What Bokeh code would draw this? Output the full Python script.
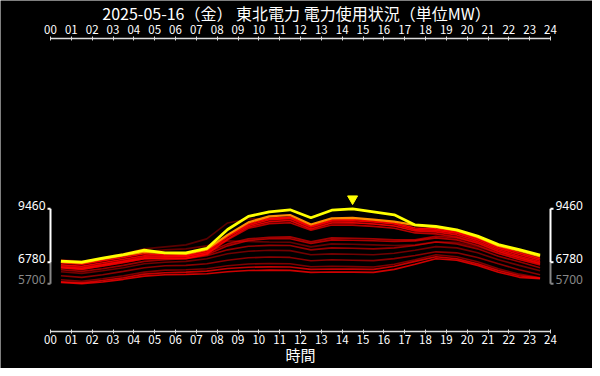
from bokeh.plotting import figure
from bokeh.models import Range1d, LinearAxis, FixedTicker, ColumnDataSource
from bokeh.core.properties import value
from bokeh.embed import file_html
from bokeh.resources import INLINE

# ---------------- data ----------------
title_text = "2025-05-16（金） 東北電力 電力使用状況（単位MW）"
x_axis_title = "時間"
hour_slots = ["00", "01", "02", "03", "04", "05", "06", "07", "08", "09", "10", "11",
              "12", "13", "14", "15", "16", "17", "18", "19", "20", "21", "22", "23"]
tick_labels = ["00", "01", "02", "03", "04", "05", "06", "07", "08", "09", "10", "11", "12",
               "13", "14", "15", "16", "17", "18", "19", "20", "21", "22", "23", "24"]

today_0516 = [6830, 6780, 6990, 7160, 7380, 7250, 7250, 7470, 8420, 9080, 9310, 9410,
              9010, 9390, 9460, 9310, 9160, 8650, 8580, 8400, 8090, 7660, 7410, 7130]
yesterday_0515 = [6800, 6750, 6940, 7120, 7300, 7230, 7200, 7420, 8150, 8780, 9080, 9150,
                  8670, 8980, 9000, 8920, 8820, 8640, 8540, 8370, 8050, 7610, 7360, 7070]

may01 = [6900, 6820, 6980, 7200, 7450, 7550, 7650, 7950, 8750, 8950, 8960, 8950,
         8500, 8800, 8780, 8700, 8600, 8400, 8350, 8250, 7950, 7550, 7250, 6980]
may02 = [6750, 6680, 6850, 7050, 7300, 7400, 7450, 7600, 7850, 7820, 7790, 7780,
         7550, 7700, 7680, 7650, 7620, 7650, 7800, 7780, 7550, 7200, 6920, 6680]
may03 = [6300, 6220, 6350, 6500, 6700, 6780, 6820, 6950, 7200, 7330, 7376, 7360,
         7150, 7200, 7180, 7150, 7230, 7380, 7560, 7500, 7250, 6900, 6620, 6350]
may04 = [5900, 5820, 5950, 6100, 6280, 6380, 6400, 6450, 6600, 6690, 6715, 6700,
         6550, 6580, 6560, 6540, 6680, 6900, 7150, 7050, 6800, 6450, 6180, 6000]
may05 = [6100, 6020, 6150, 6320, 6500, 6600, 6620, 6700, 6880, 7000, 7040, 7020,
         6850, 6900, 6880, 6860, 6960, 7120, 7300, 7250, 7020, 6700, 6400, 6150]
may06 = [6400, 6320, 6450, 6620, 6820, 6900, 6950, 7100, 7400, 7580, 7625, 7620,
         7400, 7500, 7480, 7450, 7500, 7620, 7790, 7700, 7450, 7080, 6800, 6500]
may07 = [6600, 6520, 6680, 6850, 7050, 7100, 7080, 7250, 7700, 7950, 8035, 8050,
         7800, 8000, 7980, 7950, 7900, 7900, 8080, 8000, 7720, 7300, 7000, 6720]
may08 = [6500, 6430, 6580, 6760, 6950, 7000, 6980, 7150, 7600, 7870, 7955, 7960,
         7720, 7900, 7880, 7860, 7820, 7850, 8000, 7900, 7620, 7230, 6920, 6640]
may09 = [6500, 6420, 6600, 6780, 6950, 6950, 6950, 7180, 7900, 8480, 8715, 8760,
         8380, 8650, 8640, 8580, 8480, 8250, 8200, 8050, 7750, 7330, 7000, 6720]
may10 = [5800, 5740, 5860, 6000, 6180, 6250, 6280, 6330, 6460, 6530, 6545, 6540,
         6420, 6440, 6430, 6420, 6580, 6820, 7050, 6950, 6700, 6360, 6100, 5980]
may11 = [5760, 5700, 5790, 5920, 6080, 6150, 6170, 6200, 6300, 6360, 6380, 6370,
         6270, 6290, 6280, 6270, 6420, 6680, 6950, 6880, 6620, 6280, 6020, 5950]
may12 = [6550, 6480, 6650, 6830, 7000, 6990, 6980, 7200, 7950, 8550, 8815, 8870,
         8450, 8750, 8760, 8700, 8600, 8350, 8300, 8150, 7820, 7400, 7080, 6800]
may13 = [6650, 6580, 6750, 6930, 7100, 7080, 7050, 7280, 8050, 8620, 8915, 8980,
         8550, 8850, 8860, 8800, 8700, 8420, 8380, 8230, 7900, 7480, 7170, 6880]
may14 = [6750, 6680, 6850, 7020, 7200, 7150, 7120, 7350, 8100, 8700, 8980, 9050,
         8600, 8900, 8920, 8850, 8750, 8500, 8450, 8300, 7980, 7560, 7250, 6950]

past_days = [may01, may02, may03, may04, may05, may06, may07, may08, may09,
             may10, may11, may12, may13, may14]

# ---------------- layout constants (pixels) ----------------
FRAME_W, FRAME_H = 592, 368
PX_PER_HOUR = 500 / 24.0
LEFT_PX = 50
X0 = -LEFT_PX / PX_PER_HOUR
X1 = X0 + FRAME_W / PX_PER_HOUR
MW_PER_PX = 50.19
REF_MW, REF_PX = 9460, 208.3          # vertical anchor of the value scale
Y1 = REF_MW + REF_PX * MW_PER_PX
Y0 = Y1 - FRAME_H * MW_PER_PX


def y_at(px):
    return Y1 - px * MW_PER_PX


def x_at(px):
    return X0 + px / PX_PER_HOUR


xs = [i + 0.5 for i in range(len(hour_slots))]

p = figure(frame_width=FRAME_W, frame_height=FRAME_H,
           x_range=Range1d(X0, X1), y_range=Range1d(Y0, Y1),
           output_backend="svg", toolbar_location=None,
           x_axis_location=None, y_axis_location=None, min_border=0,
           background_fill_color="black", border_fill_color="black",
           outline_line_color=None)
for g in p.grid:
    g.visible = False

ticks = list(range(len(tick_labels)))
overrides = {t: lab for t, lab in zip(ticks, tick_labels)}


def make_axis(loc, standoff):
    return LinearAxis(ticker=FixedTicker(ticks=ticks), major_label_overrides=overrides,
                      bounds=(0, 24), fixed_location=loc,
                      axis_line_color="#dddddd", axis_line_width=1.5,
                      major_tick_line_color="#dddddd", major_tick_in=2, major_tick_out=2,
                      minor_tick_line_color=None, major_label_text_color="white",
                      major_label_text_font="Noto Sans CJK JP",
                      major_label_text_font_size="11.5px", major_label_standoff=standoff)


p.add_layout(make_axis(y_at(37.5), 2), "above")
p.add_layout(make_axis(y_at(331), 1), "below")

# title and axis title
p.text(x=[x_at(296)], y=[y_at(12.5)], text=[title_text], text_align="center",
       text_baseline="middle", text_color="white",
       text_font=value("Noto Sans CJK JP"), text_font_size="16px")
p.text(x=[x_at(300)], y=[y_at(354)], text=[x_axis_title], text_align="center",
       text_baseline="middle", text_color="white",
       text_font=value("Noto Sans CJK JP"), text_font_size="15px")

# past days: older dimmer
n = len(past_days)
for i, day in enumerate(past_days):
    a = 0.35 + 0.6 * i / (n - 1)
    p.line(xs, day, line_color="#ff0000", line_alpha=a, line_width=1.6)

p.line(xs, yesterday_0515, line_color="#ff8c00", line_width=2.2)
p.line(xs, today_0516, line_color="#ffff00", line_width=2.8)

# peak marker
peak = max(today_0516)
peak_i = today_0516.index(peak)
p.scatter([xs[peak_i]], [peak + 10 * MW_PER_PX], marker="inverted_triangle", size=10,
          fill_color="#ffff00", line_color="#ffff00")

# min/max brackets
day_min = min(today_0516)
all_min = min(min(d) for d in past_days + [today_0516, yesterday_0515])
stub = 3 / PX_PER_HOUR
for x_edge, sgn, align, off in [(0, -1, "right", -5), (24, 1, "left", 5)]:
    p.segment(x0=[x_edge], y0=[day_min], x1=[x_edge], y1=[all_min],
              line_color="#888888", line_width=2)
    p.segment(x0=[x_edge], y0=[all_min], x1=[x_edge + sgn * stub], y1=[all_min],
              line_color="#888888", line_width=2)
    p.segment(x0=[x_edge] * 3, y0=[peak, day_min, peak],
              x1=[x_edge, x_edge + sgn * stub, x_edge + sgn * stub], y1=[day_min, day_min, peak],
              line_color="white", line_width=2)
    src = ColumnDataSource(dict(x=[x_edge, x_edge], y=[peak, day_min],
                                t=[str(peak), str(day_min)]))
    p.text(x="x", y="y", text="t", source=src, text_align=align, text_baseline="middle",
           x_offset=off, y_offset=-3.5, text_color="white",
           text_font=value("Noto Sans"), text_font_size="12px")
    p.text(x=[x_edge], y=[all_min], text=[str(all_min)], text_align=align,
           text_baseline="middle", x_offset=off, y_offset=-4, text_color="#888888",
           text_font=value("Noto Sans"), text_font_size="12px")

open("out.html", "w").write(file_html(p, INLINE))
